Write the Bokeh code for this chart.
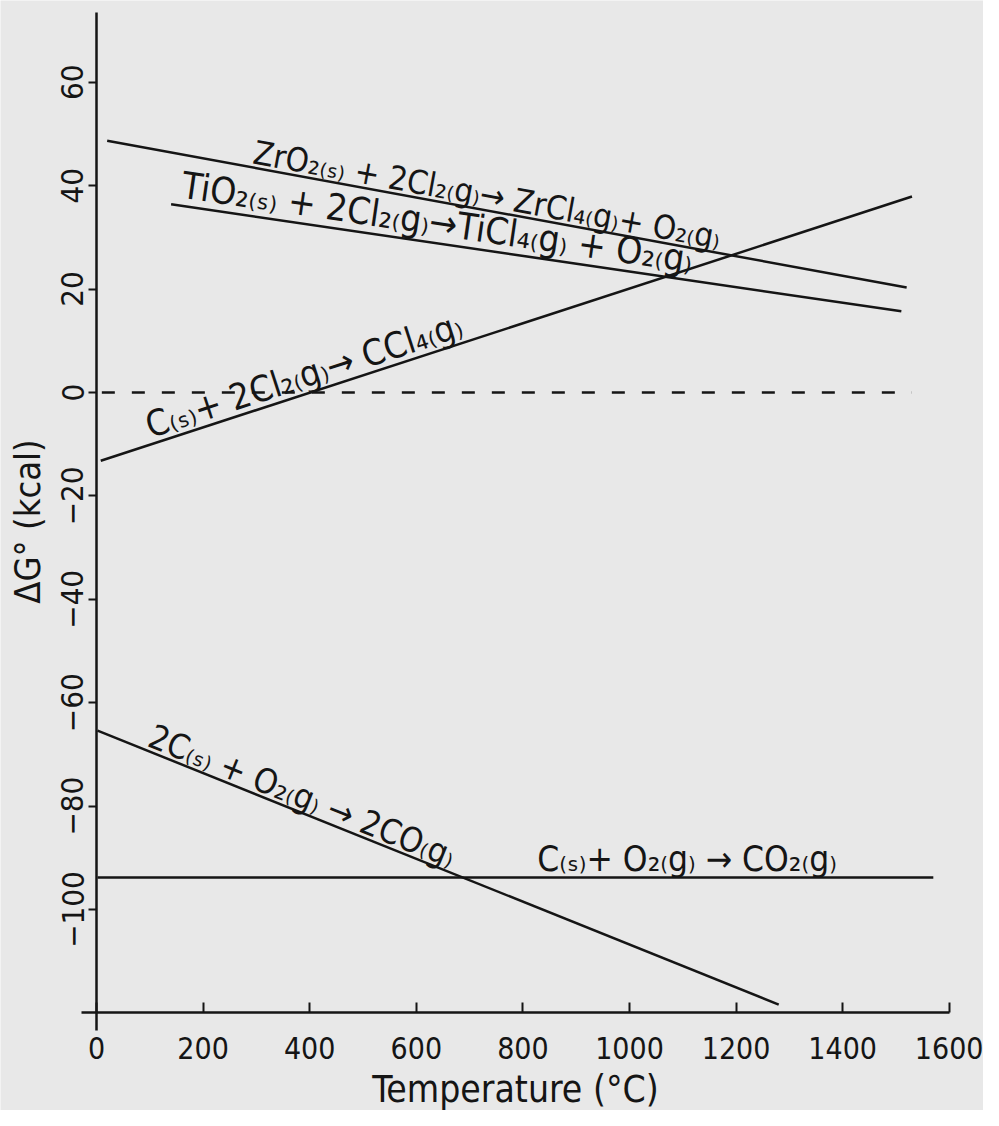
import math
from bokeh.plotting import figure
from bokeh.models import FixedTicker, ColumnDataSource
from bokeh.embed import file_html
from bokeh.resources import INLINE
from bokeh.core.properties import value

# ---------------- data ----------------
zr_T = [20, 1520]
zr_G = [48.7, 20.3]
ti_T = [140, 1510]
ti_G = [36.4, 15.7]
ccl4_T = [8, 1530]
ccl4_G = [-13.2, 37.9]
co_T = [2, 1280]
co_G = [-65.4, -118.4]
co2_T = [2, 1570]
co2_G = [-93.8, -93.8]
zero_T = [10, 1530]
zero_G = [0, 0]

x_ticks = [0, 200, 400, 600, 800, 1000, 1200, 1400, 1600]
y_ticks = [-100, -80, -60, -40, -20, 0, 20, 40, 60]

zr_label = "ZrO₂₍ₛ₎ + 2Cl₂₍g₎→ ZrCl₄₍g₎+ O₂₍g₎"
ti_label = "TiO₂₍ₛ₎ + 2Cl₂₍g₎→TiCl₄₍g₎ + O₂₍g₎"
ccl4_label = "C₍ₛ₎+ 2Cl₂₍g₎→ CCl₄₍g₎"
co_label = "2C₍ₛ₎ + O₂₍g₎ → 2CO₍g₎"
co2_label = "C₍ₛ₎+ O₂₍g₎ → CO₂₍g₎"

x_title = "Temperature (°C)"
y_title = "ΔG° (kcal)"

# ---------------- figure ----------------
FONT = "DejaVu Sans Condensed, Liberation Sans, sans-serif"
INK = "#151515"
PAPER = "#e8e8e8"

W, H = 983, 1110
SX, SY = 0.533, 5.17          # pixels per unit
X0PX, Y0PX = 96, 392          # pixel position of T=0 and dG=0
xr = (-X0PX / SX, (W - X0PX) / SX)
yr = (-(H - Y0PX) / SY, Y0PX / SY)

p = figure(width=W, height=H, x_range=xr, y_range=yr,
           output_backend="svg", toolbar_location=None,
           min_border_left=0, min_border_right=0,
           min_border_top=0, min_border_bottom=0)
p.background_fill_color = PAPER
p.border_fill_color = PAPER
p.outline_line_color = None
p.grid.visible = False

sx = W / (xr[1] - xr[0])
sy = H / (yr[1] - yr[0])

# axes
xa = p.xaxis[0]
xa.fixed_location = -120
xa.bounds = (-28, 1600)
xa.ticker = FixedTicker(ticks=x_ticks)
xa.axis_line_width = 2.5
xa.axis_line_color = INK
xa.major_tick_in = 10
xa.major_tick_out = 0
xa.major_tick_line_width = 2
xa.major_tick_line_color = INK
xa.minor_tick_line_color = None
xa.major_label_standoff = 24
xa.major_label_text_font = FONT
xa.major_label_text_font_size = "30px"
xa.major_label_text_color = INK
xa.axis_label = x_title
xa.axis_label_text_font = FONT
xa.axis_label_text_font_size = "37px"
xa.axis_label_text_font_style = "normal"
xa.axis_label_text_color = INK
xa.axis_label_standoff = 6

ya = p.yaxis[0]
ya.fixed_location = 0
ya.bounds = (-123.5, 73.5)
ya.ticker = FixedTicker(ticks=y_ticks)
ya.axis_line_width = 2.5
ya.axis_line_color = INK
ya.major_tick_in = 0
ya.major_tick_out = 8
ya.major_tick_line_width = 2
ya.major_tick_line_color = INK
ya.minor_tick_line_color = None
ya.major_label_orientation = "parallel"
ya.major_label_standoff = 5
ya.major_label_text_font = FONT
ya.major_label_text_font_size = "31px"
ya.major_label_text_color = INK
ya.axis_label = y_title
ya.axis_label_text_font = FONT
ya.axis_label_text_font_size = "36px"
ya.axis_label_text_font_style = "normal"
ya.axis_label_text_color = INK
ya.axis_label_standoff = 11

# lines
for T, G in [(zr_T, zr_G), (ti_T, ti_G), (ccl4_T, ccl4_G), (co_T, co_G), (co2_T, co2_G)]:
    p.line(T, G, line_color=INK, line_width=2.5)
p.line(zero_T, zero_G, line_color=INK, line_width=2.5, line_dash="13 17")

# labels placed along their lines
def along(T, G, t0, d):
    ang = math.atan2((G[1] - G[0]) * sy, (T[1] - T[0]) * sx)
    g0 = G[0] + (G[1] - G[0]) * (t0 - T[0]) / (T[1] - T[0])
    return t0 - math.sin(ang) * d / sx, g0 + math.cos(ang) * d / sy, ang

specs = [
    (zr_T, zr_G, 290, -4, "33px", zr_label),
    (ti_T, ti_G, 155, -1, "37px", ti_label),
    (ccl4_T, ccl4_G, 105, -2, "36px", ccl4_label),
    (co_T, co_G, 90, -4, "34px", co_label),
    (co2_T, co2_G, 827, -2, "35px", co2_label),
]
lx, ly, la, ls, lt = [], [], [], [], []
for T, G, t0, d, fs, txt in specs:
    x, y, a = along(T, G, t0, d)
    lx.append(x); ly.append(y); la.append(a); ls.append(fs); lt.append(txt)

src = ColumnDataSource(dict(x=lx, y=ly, angle=la, size=ls, text=lt))
p.text(x="x", y="y", text="text", angle="angle", source=src,
       text_font=value(FONT), text_font_size="size", text_color=INK,
       text_align="left", text_baseline="bottom")

open("out.html", "w").write(file_html(p, INLINE))
